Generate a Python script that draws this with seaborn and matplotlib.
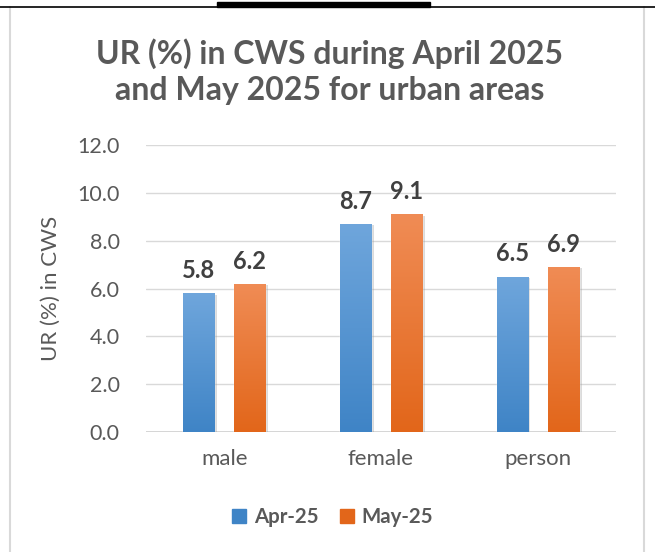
import matplotlib
matplotlib.use("Agg")
import matplotlib.pyplot as plt
import matplotlib.patheffects as pe
from matplotlib.lines import Line2D
from matplotlib.patches import Rectangle
import numpy as np
import pandas as pd
import seaborn as sns

categories = ["male", "female", "person"]
series_names = ["Apr-25", "May-25"]
apr_values = [5.8, 8.7, 6.5]
may_values = [6.2, 9.1, 6.9]
y_ticks = [0.0, 2.0, 4.0, 6.0, 8.0, 10.0, 12.0]

title = "UR (%) in CWS during April 2025\nand May 2025 for urban areas"
ylabel = "UR (%) in CWS"

df = pd.DataFrame({
    "category": categories * 2,
    "series": [series_names[0]] * 3 + [series_names[1]] * 3,
    "value": apr_values + may_values,
})

sns.set_theme(style="white")
plt.rcParams["font.family"] = ["Lato", "DejaVu Sans"]

grey_text = "#595959"
blue_top, blue_bot = "#6fa6dc", "#3f84c6"
orange_top, orange_bot = "#f08c55", "#e2661a"

fig = plt.figure(figsize=(6.55, 5.52), dpi=100)
ax = fig.add_axes([146 / 655, 1 - 432 / 552, (616 - 146) / 655, (432 - 145) / 552])

sns.barplot(data=df, x="category", y="value", hue="series", order=categories,
            hue_order=series_names, palette=[blue_bot, orange_bot],
            width=0.652, gap=0.39, ax=ax, legend=False, zorder=3)

ax.set_ylim(0, 12)
ax.set_yticks(y_ticks)
ax.set_yticklabels([f"{t:.1f}" for t in y_ticks], fontsize=15.5, color=grey_text)
ax.tick_params(axis="x", labelsize=16, colors=grey_text, length=0, pad=12)
ax.tick_params(axis="y", length=0, pad=19)
ax.set_xlabel("")
ax.set_ylabel(ylabel, fontsize=16, color=grey_text, labelpad=12)
ax.grid(axis="y", color="#d9d9d9", linewidth=1.0, zorder=0)
for s in ax.spines.values():
    s.set_visible(False)
ax.axhline(0, color="#d0d0d0", linewidth=1.2, zorder=2)

# gradient fills and labels
grad = np.linspace(0, 1, 256).reshape(-1, 1)
for container, (ctop, cbot) in zip(ax.containers, [(blue_top, blue_bot), (orange_top, orange_bot)]):
    cmap = matplotlib.colors.LinearSegmentedColormap.from_list("g", [cbot, ctop])
    for patch in container:
        x0, y0 = patch.get_x(), patch.get_y()
        w, h = patch.get_width(), patch.get_height()
        patch.set_path_effects([pe.SimplePatchShadow(offset=(2, -1), shadow_rgbFace="#999999", alpha=0.35), pe.Normal()])
        im = ax.imshow(grad, extent=[x0, x0 + w, y0, y0 + h], origin="lower",
                       cmap=cmap, aspect="auto", zorder=4)
        im.set_clip_path(patch)
    ax.bar_label(container, fmt="%.1f", padding=8, fontsize=17,
                 fontweight="bold", color="#404040")
ax.set_xlim(-0.5, 2.5)
ax.set_ylim(0, 12)

# legend
handles = [Line2D([], [], marker="s", linestyle="", markersize=10,
                  markerfacecolor=c, markeredgecolor=c) for c in [blue_bot, orange_bot]]
leg = fig.legend(handles, series_names, loc="center", bbox_to_anchor=(332 / 655, 1 - 517 / 552),
                 ncol=2, frameon=False, handlelength=0.8, handletextpad=0.3,
                 columnspacing=1.0, fontsize=14.7)
for t in leg.get_texts():
    t.set_fontweight("bold")
    t.set_color(grey_text)

fig.text(330 / 655, 1 - 72 / 552, title, ha="center", va="center", fontsize=23,
         fontweight="bold", color=grey_text, linespacing=1.3)

# chart frame and top lines
fig.add_artist(Line2D([10 / 655, 10 / 655], [0, 1 - 7 / 552], transform=fig.transFigure,
                      color="#d9d9d9", linewidth=1.5))
fig.add_artist(Line2D([644 / 655, 644 / 655], [0, 1 - 7 / 552], transform=fig.transFigure,
                      color="#d9d9d9", linewidth=1.5))
fig.add_artist(Line2D([0, 1], [1 - 6.5 / 552, 1 - 6.5 / 552], transform=fig.transFigure,
                      color="black", linewidth=1.2))
fig.add_artist(Rectangle((217 / 655, 1 - 7 / 552), (430 - 217) / 655, 5 / 552,
                         transform=fig.transFigure, color="black"))

fig.savefig("out.png", dpi=100)
